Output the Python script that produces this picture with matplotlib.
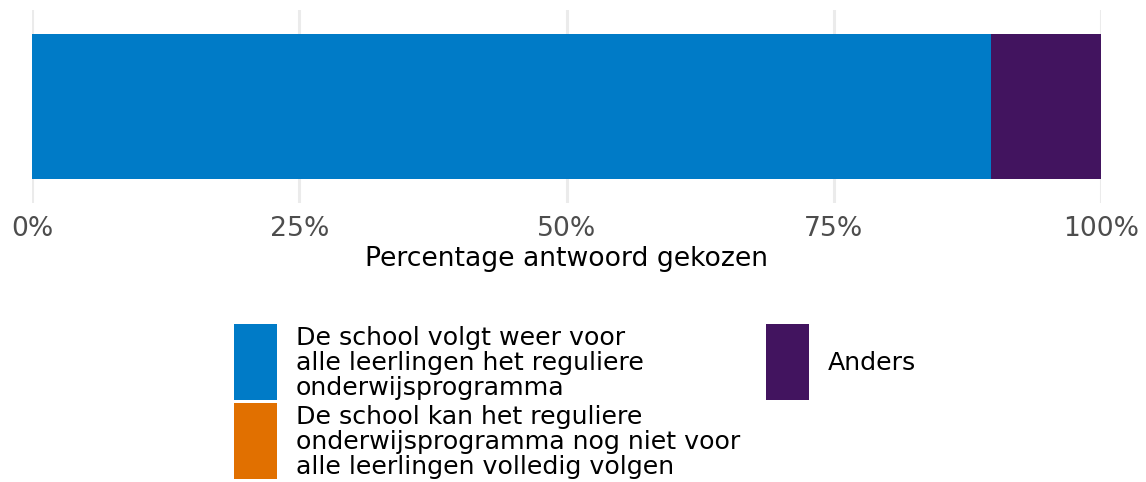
import matplotlib
matplotlib.use("Agg")
import matplotlib.pyplot as plt
from matplotlib.patches import Rectangle

categories = [
    "De school volgt weer voor\nalle leerlingen het reguliere\nonderwijsprogramma",
    "De school kan het reguliere\nonderwijsprogramma nog niet voor\nalle leerlingen volledig volgen",
    "Anders",
]
values = [0.897, 0.0, 0.103]
colors = ["#007BC7", "#E17000", "#42145F"]
xticks = [0, 0.25, 0.5, 0.75, 1.0]
xticklabels = ["0%", "25%", "50%", "75%", "100%"]

W, H = 1146, 482
fig = plt.figure(figsize=(W / 100, H / 100), dpi=100)
plt.rcParams['font.family'] = ['DejaVu Sans']

ax = fig.add_axes([32 / W, 1 - 203 / H, (1101 - 32) / W, (203 - 10) / H])
left = 0
for v, c in zip(values, colors):
    ax.barh(0, v, left=left, height=0.9, color=c, zorder=2)
    left += v
ax.set_ylim(-0.6, 0.6)
ax.set_xlim(0, 1)
ax.set_yticks([])
ax.set_xticks(xticks)
ax.set_xticklabels(xticklabels, fontsize=19.2, color="#4D4D4D")
ax.tick_params(axis='x', length=0, pad=9)
ax.grid(axis='x', color="#EBEBEB", linewidth=2.2, zorder=0)
for s in ax.spines.values():
    s.set_visible(False)
ax.set_xlabel("Percentage antwoord gekozen", fontsize=19.2, color="black", labelpad=3)

# legend drawn manually
def px(x, y):
    return x / W, 1 - y / H

legend_items = [
    (categories[0], colors[0], 234, 324),
    (categories[1], colors[1], 234, 403),
    (categories[2], colors[2], 766, 324),
]
for label, c, x0, y0 in legend_items:
    fx, fy = px(x0, y0 + 76)
    fig.add_artist(Rectangle((fx, fy), 43 / W, 76 / H, transform=fig.transFigure,
                             facecolor=c, edgecolor="none"))
    tx, ty = px(x0 + 62, y0 + 39)
    fig.text(tx, ty, label, fontsize=18.2, va="center", ha="left",
             linespacing=1.06, color="black")

fig.savefig("out.png", dpi=100)
